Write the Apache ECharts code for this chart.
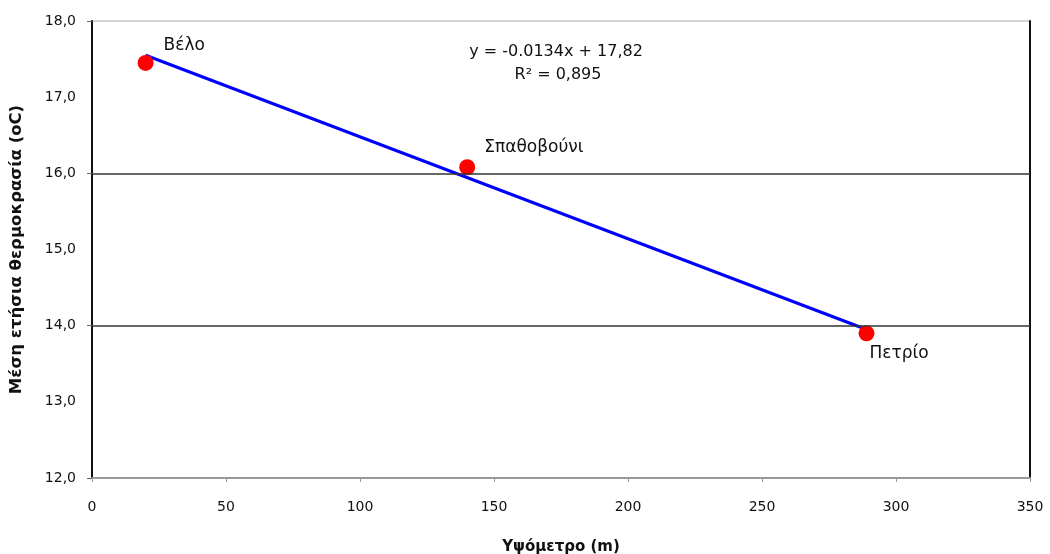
<!DOCTYPE html>
<html>
<head>
<meta charset="utf-8">
<script src="https://cdn.jsdelivr.net/npm/echarts@6/dist/echarts.min.js"></script>
<style>
  html, body { margin: 0; padding: 0; background: #fff; }
  #chart { width: 1050px; height: 554px; }
</style>
</head>
<body>
<div id="chart"></div>
<script>
// stations
const stationNames = ['Βέλο', 'Σπαθοβούνι', 'Πετρίο'];
const altitudes = [20, 140, 289];
const meanTemps = [17.45, 16.08, 13.9];

// linear trend line endpoints
const trendX = [20, 289];
const trendY = [17.55, 13.95];

// grid lines drawn at these temperatures
const gridTemps = [14, 16];

const equationLines = ['y = -0.0134x + 17,82', 'R² = 0,895'];

const font = 'DejaVu Sans, sans-serif';

const chart = echarts.init(document.getElementById('chart'));

// label placement per station
const labelOffsets = [[5, -17], [4, -20], [-10, 20]];

const points = altitudes.map((x, i) => ({
  value: [x, meanTemps[i]],
  name: stationNames[i],
  label: {
    show: true,
    formatter: stationNames[i],
    position: 'right',
    offset: labelOffsets[i],
    color: '#111',
    fontSize: 17,
    fontFamily: font
  }
}));

const option = {
  animation: false,
  grid: {
    left: 92, right: 20, top: 21, bottom: 76,
    outerBoundsMode: 'none',
    containLabel: false,
    show: true, borderColor: '#aaa', borderWidth: 1
  },
  xAxis: [{
    type: 'value',
    min: 0, max: 350, interval: 50,
    name: 'Υψόμετρο (m)',
    nameLocation: 'middle',
    nameGap: 62,
    nameTextStyle: { fontWeight: 'bold', fontSize: 15, color: '#111', fontFamily: font },
    axisLine: { show: true, lineStyle: { color: '#999', width: 2 } },
    axisTick: { show: true, length: 4, lineStyle: { color: '#999' } },
    axisLabel: { color: '#111', fontSize: 14, fontFamily: font, margin: 22 },
    splitLine: { show: false }
  }],
  yAxis: [{
    type: 'value',
    min: 12, max: 18, interval: 1,
    name: 'Μέση ετήσια θερμοκρασία (oC)',
    nameLocation: 'middle',
    nameGap: 67,
    nameTextStyle: { fontWeight: 'bold', fontSize: 16.5, color: '#111', fontFamily: font },
    axisLine: { show: true, lineStyle: { color: '#111', width: 2 } },
    axisTick: { show: false },
    axisLabel: {
      color: '#111', fontSize: 14, fontFamily: font, margin: 16,
      formatter: v => v.toFixed(1).replace('.', ',')
    },
    splitLine: { show: false }
  }, {
    type: 'value',
    position: 'left',
    min: 12, max: 18, interval: 2,
    axisLine: { show: false },
    axisTick: { show: true, length: 5, lineStyle: { color: '#666' } },
    axisLabel: { show: false },
    splitLine: { show: false }
  }, {
    type: 'value',
    position: 'right',
    min: 12, max: 18, interval: 2,
    axisLine: { show: true, lineStyle: { color: '#111', width: 2 } },
    axisTick: { show: false },
    axisLabel: { show: false },
    splitLine: { show: false }
  }],
  series: [{
    type: 'line',
    data: trendX.map((x, i) => [x, trendY[i]]),
    symbol: 'none',
    lineStyle: { color: '#0000ff', width: 3 },
    z: 3,
    markLine: {
      silent: true,
      symbol: 'none',
      label: { show: false },
      lineStyle: { color: '#333', width: 1.5, type: 'solid' },
      data: gridTemps.map(t => ({ yAxis: t }))
    }
  }, {
    type: 'scatter',
    data: points,
    symbol: 'circle',
    symbolSize: 16,
    itemStyle: { color: '#ff0000', opacity: 1 },
    z: 4
  }],
  graphic: [{
    type: 'text',
    x: 556, y: 44,
    style: { text: equationLines[0], fontSize: 16, fontFamily: font, fill: '#111', align: 'center' }
  }, {
    type: 'text',
    x: 558, y: 67,
    style: { text: equationLines[1], fontSize: 16, fontFamily: font, fill: '#111', align: 'center' }
  }]
};

chart.setOption(option);
</script>
</body>
</html>
